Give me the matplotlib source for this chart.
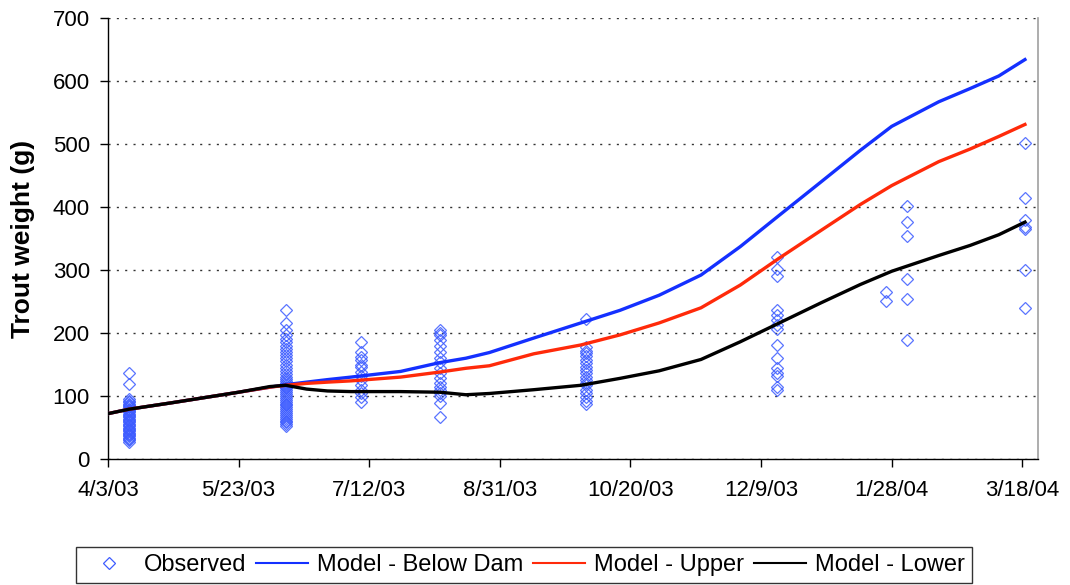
import matplotlib
matplotlib.use("Agg")
import matplotlib.pyplot as plt
import pandas as pd
from matplotlib.lines import Line2D

plt.rcParams['font.family'] = ['Liberation Sans', 'DejaVu Sans']

start = pd.Timestamp('2003-04-03')

# Model curves: day offsets from 4/3/03 and weights (g)
model_days = [0, 8, 24, 50, 62, 68, 76, 84, 93, 112, 127, 137, 146, 163, 181, 196,
              211, 227, 242, 257, 273, 288, 300, 318, 330, 341, 351]
below_dam = [72, 79, 89, 106, 114, 118, 122, 126, 130, 139, 153, 160, 169, 192, 216, 236,
             260, 292, 337, 387, 440, 490, 528, 567, 588, 608, 634]
upper = [72, 79, 89, 106, 114, 117, 120, 122, 124, 130, 138, 144, 148, 167, 181, 197,
         216, 240, 276, 319, 363, 404, 434, 472, 492, 512, 531]
lower = [72, 79, 89, 106, 115, 117, 111, 108, 107, 107, 106, 102, 104, 110, 117, 128,
         140, 158, 186, 216, 248, 277, 298, 323, 339, 356, 376]

# Observed weights grouped by sampling day
obs_day1 = 8
obs_w1 = [136, 119, 95, 92, 90, 88, 86, 84, 82, 80, 78, 76, 74, 72, 70, 68, 66, 64, 62, 60,
          58, 56, 54, 52, 50, 48, 46, 44, 42, 40, 38, 36, 34, 32, 30, 27]
obs_day2 = 68
obs_w2 = [236, 216, 205, 197, 190, 185, 180, 175, 170, 165, 160, 155, 150, 145, 140, 135,
          130, 127, 124, 121, 118, 115, 112, 109, 106, 103, 100, 97, 94, 91, 88, 85, 82,
          79, 76, 73, 70, 67, 64, 61, 58, 55, 52]
obs_day3 = 97
obs_w3 = [186, 170, 162, 157, 150, 146, 138, 132, 125, 117, 110, 104, 98, 90]
obs_day4 = 127
obs_w4 = [205, 200, 197, 189, 180, 170, 160, 154, 144, 136, 128, 121, 115, 110, 105, 100,
          89, 67]
obs_day5 = 183
obs_w5 = [222, 178, 172, 168, 163, 157, 152, 146, 141, 136, 130, 125, 120, 117, 110, 104,
          98, 92, 87]
obs_day6 = 256
obs_w6 = [320, 302, 290, 236, 228, 220, 212, 206, 181, 160, 145, 137, 132, 115, 110]
obs_day7 = 298
obs_w7 = [265, 251]
obs_day8 = 306
obs_w8 = [401, 376, 354, 286, 254, 189]
obs_day9 = 351
obs_w9 = [501, 414, 379, 368, 365, 300, 240]

tick_labels = ['4/3/03', '5/23/03', '7/12/03', '8/31/03', '10/20/03', '12/9/03',
               '1/28/04', '3/18/04']
tick_days = [0, 50, 100, 150, 200, 250, 300, 350]

fig = plt.figure(figsize=(10.7, 5.85), dpi=100)
ax = fig.add_axes([108 / 1070, 1 - 459 / 585, (1038 - 108) / 1070, (459 - 18) / 585])

obs_groups = [(obs_day1, obs_w1), (obs_day2, obs_w2), (obs_day3, obs_w3), (obs_day4, obs_w4),
              (obs_day5, obs_w5), (obs_day6, obs_w6), (obs_day7, obs_w7), (obs_day8, obs_w8),
              (obs_day9, obs_w9)]
obs_x = []
obs_y = []
for d, ws in obs_groups:
    obs_x += [start + pd.Timedelta(days=d)] * len(ws)
    obs_y += ws

mx = [start + pd.Timedelta(days=d) for d in model_days]

obs_color = '#3d5cff'
ax.plot(obs_x, obs_y, linestyle='none', marker='D', markersize=6.5, markerfacecolor='none',
        markeredgecolor=obs_color, markeredgewidth=0.9, alpha=0.85, zorder=2)
ax.plot(mx, below_dam, color='#1430ff', lw=2.4, zorder=3)
ax.plot(mx, upper, color='#ff2a0a', lw=2.4, zorder=3)
ax.plot(mx, lower, color='#000000', lw=2.4, zorder=4)

ax.set_xlim(start, start + pd.Timedelta(days=356))
ax.set_ylim(0, 700)
ax.set_yticks(range(0, 701, 100))
ax.set_xticks([start + pd.Timedelta(days=d) for d in tick_days])
ax.set_xticklabels(tick_labels)

ax.grid(axis='y', linestyle=(0, (1.5, 4.5)), color='#333333', lw=1.0)
ax.set_axisbelow(True)
ax.spines['top'].set_visible(False)
ax.spines['right'].set_color('#a0a0a0')
ax.spines['right'].set_linewidth(1.2)
ax.spines['left'].set_linewidth(1.0)
ax.spines['bottom'].set_linewidth(1.0)
ax.tick_params(axis='both', direction='out', length=6, width=1, labelsize=16, colors='black')
ax.tick_params(axis='x', pad=9)
ax.tick_params(axis='y', pad=7)
ax.set_ylabel('Trout weight (g)', fontsize=19, fontweight='bold')
ax.yaxis.set_label_coords(-0.079, 0.5)

handles = [
    Line2D([], [], linestyle='none', marker='D', markersize=6, markerfacecolor='none',
           markeredgecolor=obs_color, markeredgewidth=0.9),
    Line2D([], [], color='#1430ff', lw=1.5),
    Line2D([], [], color='#ff2a0a', lw=1.5),
    Line2D([], [], color='#000000', lw=1.5),
]
labels = ['Observed', 'Model - Below Dam', 'Model - Upper', 'Model - Lower']
leg = fig.legend(handles, labels, loc='center', bbox_to_anchor=(524 / 1070, 1 - 565 / 585),
                 ncol=4, fontsize=17, frameon=True, fancybox=False, edgecolor='black',
                 handlelength=2.2, handletextpad=0.38, columnspacing=0.42, borderpad=0.3)
leg.get_frame().set_linewidth(1.0)

fig.savefig('out.png', dpi=100)
